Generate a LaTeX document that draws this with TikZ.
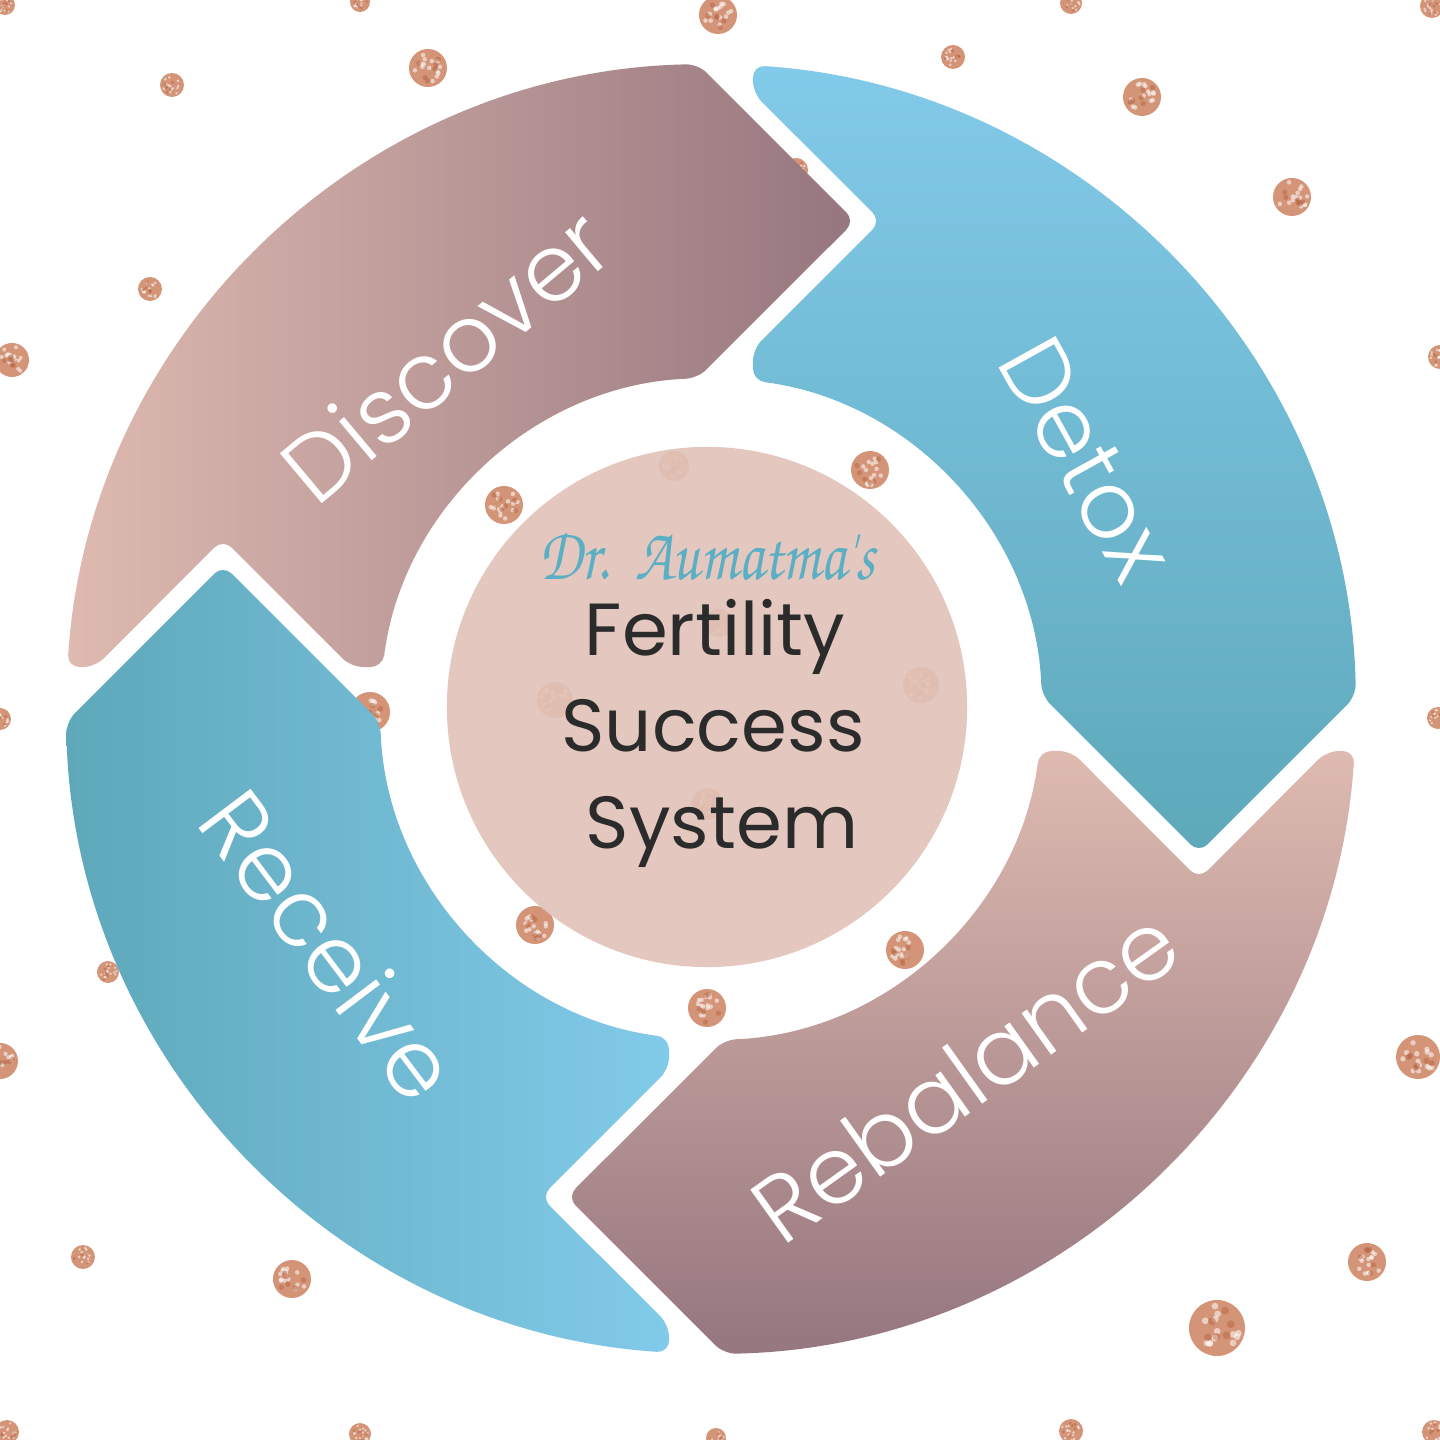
\documentclass[tikz,border=0pt]{standalone}
\usepackage{fontspec}
\setmainfont{Poppins}
\newfontfamily\lightfont{Poppins Light}
\newfontfamily\chorus{texgyrechorus-mediumitalic.otf}
\usepackage{graphicx}
\definecolor{pinkL}{HTML}{DEBAB0}
\definecolor{pinkD}{HTML}{96767F}
\definecolor{blueL}{HTML}{82CAE9}
\definecolor{blueD}{HTML}{5EA8BA}
\definecolor{hubcol}{HTML}{E2C3B9}
\definecolor{copper}{HTML}{D39478}
\definecolor{copperD}{HTML}{B2603E}
\definecolor{txtcol}{HTML}{2B2B2B}
\definecolor{scriptblue}{HTML}{5BAFC5}
% one ring segment, rotated by #1 degrees (Receive = 0)
\newcommand\segpath[1]{({#1+266.27}:645) arc[start angle={#1+266.27}, end angle={#1+181.15}, radius=645]
  -- ({#1+163.56}:508.8) -- ({#1+182.30}:331)
  arc[start angle={#1+182.30}, end angle={#1+262.71}, radius=331]
  -- ({#1+263.35}:362.4) -- ({#1+250.79}:516.8) -- ({#1+266.10}:617.4) -- cycle}
\newcommand\glitdot[3]{%
  \fill[copper] (#1-711,709-#2) circle[radius=#3];
  \foreach \k in {1,...,14}{%
    \pgfmathsetmacro\ang{rnd*360}\pgfmathsetmacro\rr{sqrt(rnd)*0.8*#3}%
    \fill[white,opacity=0.55,shift={(#1-711,709-#2)}] (\ang:\rr) circle[radius=#3*0.12];}
  \foreach \k in {1,...,6}{%
    \pgfmathsetmacro\ang{rnd*360}\pgfmathsetmacro\rr{sqrt(rnd)*0.75*#3}%
    \fill[copperD,opacity=0.45,shift={(#1-711,709-#2)}] (\ang:\rr) circle[radius=#3*0.14];}
}
\tikzset{
  seglabel/.style={text=white, font=\lightfont\fontsize{26.5}{28}\selectfont, inner sep=0pt},
  hubtext/.style={text=txtcol, font=\fontsize{21}{24}\selectfont, anchor=base, inner sep=0pt},
  segshape/.style={rounded corners=1.2mm},
}
\begin{document}
\begin{tikzpicture}[x=0.01cm,y=0.01cm]
\useasboundingbox (-711,-731) rectangle (729,709);
\fill[white] (-711,-731) rectangle (729,709);
\clip (-711,-731) rectangle (729,709);
\pgfmathsetseed{11}
% glitter dots
\glitdot{5}{5}{10}
\glitdot{360}{2}{10}
\glitdot{718}{15}{19}
\glitdot{1071}{3}{11}
\glitdot{1432}{6}{12}
\glitdot{172}{85}{12}
\glitdot{428}{68}{19}
\glitdot{953}{57}{12}
\glitdot{1142}{97}{19}
\glitdot{1292}{197}{19}
\glitdot{150}{289}{12}
\glitdot{12}{360}{17}
\glitdot{1440}{357}{12}
\glitdot{504}{505}{19}
\glitdot{870}{470}{19}
\glitdot{370}{712}{20}
\glitdot{796}{170}{12}
\glitdot{0}{719}{11}
\glitdot{1438}{718}{11}
\glitdot{108}{972}{11}
\glitdot{535}{925}{19}
\glitdot{905}{950}{19}
\glitdot{707}{1008}{19}
\glitdot{0}{1061}{18}
\glitdot{1418}{1057}{22}
\glitdot{83}{1257}{12}
\glitdot{292}{1279}{19}
\glitdot{1367}{1262}{19}
\glitdot{1217}{1328}{28}
\glitdot{7}{1432}{12}
\glitdot{360}{1434}{11}
\glitdot{716}{1438}{10}
\glitdot{1071}{1431}{12}
\glitdot{1434}{1432}{12}
\glitdot{674}{466}{15}
\glitdot{555}{700}{18}
\glitdot{921}{685}{18}
\glitdot{707}{804}{16}
\glitdot{719}{623}{14}
% ring segments
\shade[segshape, left color=blueD, right color=blueL] \segpath{0};
\shade[segshape, left color=pinkL, right color=pinkD] \segpath{-90};
\shade[segshape, top color=blueL, bottom color=blueD] \segpath{-180};
\shade[segshape, top color=pinkL, bottom color=pinkD] \segpath{90};
% hub
\node[circle, fill=hubcol, fill opacity=0.9, minimum size=5.2cm, inner sep=0pt] (hub) at (-4,2) {};
% labels
\node[seglabel, rotate=40] (discover) at (-266,354) {Discover};
\node[seglabel, rotate=-61] (detox) at (376,250) {Detox};
\node[seglabel, rotate=35.5] (rebalance) at (254,-366) {Rebalance};
\node[seglabel, rotate=-53] (receive) at (-381,-236) {Receive};
% hub text
\node[text=scriptblue, anchor=base, inner sep=0pt] (dr) at (-4,129) {\scalebox{1}[1.25]{\resizebox{3.35cm}{!}{\chorus Dr.\ \ Aumatma's}}};
\node[hubtext] (fert) at (4,53) {Fertility};
\node[hubtext] (succ) at (2,-43) {Success};
\node[hubtext] (syst) at (11,-140) {System};
\end{tikzpicture}
\end{document}
